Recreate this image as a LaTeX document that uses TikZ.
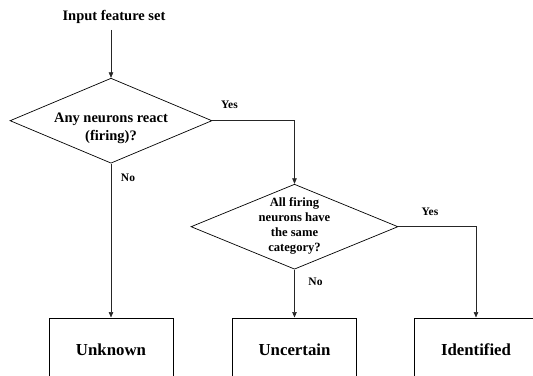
\documentclass[tikz,border=0pt]{standalone}
\usepackage{fontspec}
\setmainfont{Liberation Serif}
\usetikzlibrary{shapes.geometric,arrows.meta}
\begin{document}
\begin{tikzpicture}[x=1pt,y=-1pt,
  dia/.style={draw,diamond,inner sep=0pt,line width=0.7pt},
  outbox/.style={draw,line width=0.8pt,minimum width=124pt,minimum height=63pt,anchor=north,font=\fontsize{16.8}{18}\selectfont\bfseries},
  lbl/.style={font=\fontsize{11.5}{13}\selectfont\bfseries,inner sep=0pt},
  conn/.style={line width=0.6pt,black!85,-{Triangle[width=4.5pt,length=5.5pt]}}]
\useasboundingbox (0,0) rectangle (533,375);
\clip (0,0) rectangle (533,375);
\node[font=\fontsize{14.5}{17}\selectfont\bfseries,inner sep=0pt] (in) at (114,17) {Input feature set};
\node[dia,minimum width=202pt,minimum height=85pt] (d1) at (111,120.7) {};
\node[font=\fontsize{14.5}{18}\selectfont\bfseries,align=center,inner sep=0pt] (t1) at (111,128) {Any neurons react\\(firing)?};
\node[dia,minimum width=207pt,minimum height=85pt] (d2) at (294.5,226.7) {};
\node[font=\fontsize{12.6}{15}\selectfont\bfseries,align=center,inner sep=0pt] (t2) at (294.5,226) {All firing\\neurons have\\the same\\category?};
\node[outbox] (b1) at (111,317.5) {Unknown};
\node[outbox] (b2) at (294.5,317.5) {Uncertain};
\node[outbox] (b3) at (476,317.5) {Identified};
\node[lbl] (y1) at (229.5,105) {Yes};
\node[lbl] (y2) at (430,212) {Yes};
\node[lbl] (n1) at (128,177.5) {No};
\node[lbl] (n2) at (315.5,282) {No};
\draw[conn] ([yshift=-6pt]in.south -| d1.north) -- (d1.north);
\draw[conn] (d1.east) -| (d2.north);
\draw[conn] (d1.south) -- (b1.north);
\draw[conn] (d2.east) -| (b3.north);
\draw[conn] (d2.south) -- (b2.north);
\end{tikzpicture}
\end{document}
